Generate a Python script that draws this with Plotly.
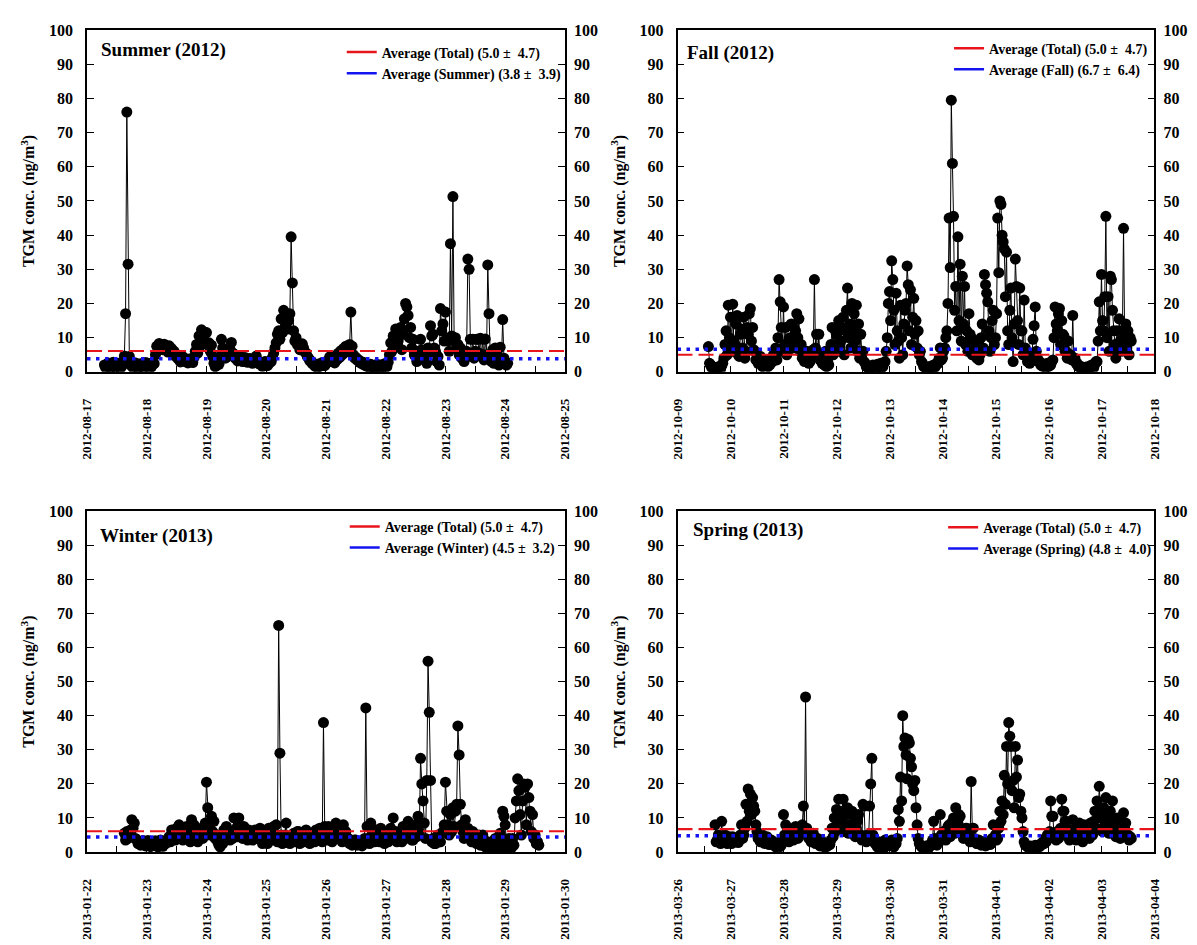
import pandas as pd
import plotly.graph_objects as go

FONT = "Liberation Serif"

# ---------------- data (half-hourly TGM, ng/m3) ----------------
summer_start = "2012-08-17 07:00"
summer_tgm = [
    2.0, 1.2, 1.8, 2.6, 2.2, 1.0, 1.6, 2.8, 2.4, 1.3, 1.9, 2.5, 2.1, 1.1, 1.7, 2.7, 4.6, 17.0, 76.0, 31.5, 4.5, 2.0,
    2.3, 1.2, 1.8, 2.6, 2.0, 1.0, 1.6, 2.4, 2.2, 1.3, 1.9, 2.7,
    1.7, 2.5, 2.1, 1.2, 1.6, 2.8, 2.4, 5.0, 7.5, 6.2, 8.3, 7.0, 7.9, 6.5, 8.1, 7.2, 7.4, 5.8, 7.6, 6.4, 6.8, 5.5, 6.0, 4.6,
    5.0, 3.9, 3.8, 2.9, 3.2, 4.4, 4.1, 3.0, 3.5, 2.6, 2.9, 3.8, 3.6, 2.7, 4.2, 6.0, 8.0, 5.5, 10.5, 7.5, 12.3, 9.0, 9.2, 11.5,
    11.5, 8.0, 8.5, 6.0, 7.8, 4.5, 2.5, 1.5, 1.8, 2.6, 2.2, 4.5, 9.5, 7.0, 5.5, 4.0, 4.2, 5.8, 5.0, 6.5, 8.6, 5.5, 5.2, 4.0,
    4.3, 3.2, 3.5, 4.6, 4.0, 3.0, 3.2, 4.2, 3.8, 2.8, 3.0, 3.9, 3.4, 2.5, 2.8, 3.6, 4.6, 3.2, 3.0, 2.2, 2.5, 1.6, 2.2, 3.0,
    2.8, 1.8, 2.4, 3.2, 3.0, 4.2, 5.5, 7.0, 8.5, 11.0, 12.0, 9.5, 15.5, 11.5, 18.0, 13.0, 16.5, 12.5, 15.0, 17.0, 39.5, 26.0, 12.0, 9.0,
    10.0, 8.0, 8.0, 6.5, 7.5, 8.2, 7.0, 5.8, 5.5, 4.5, 4.0, 3.2, 3.2, 2.4, 2.5, 1.7, 2.0, 1.3, 2.3, 1.6, 1.9, 2.7, 2.6, 1.8,
    2.4, 3.2, 3.0, 4.4, 4.2, 3.0, 3.4, 2.6, 4.8, 3.6, 5.5, 4.2, 6.2, 5.0, 6.8, 5.6, 7.5, 6.0, 7.0, 8.0, 17.5, 7.5, 5.0, 4.0,
    4.2, 3.4, 3.6, 2.8, 3.0, 2.3, 2.8, 2.0, 2.4, 1.6, 2.0, 1.3, 2.2, 1.5, 1.7, 1.0, 1.5, 2.2, 1.8, 1.1, 2.0, 1.4, 1.6, 2.4,
    2.2, 1.5, 2.8, 5.0, 8.5, 6.0, 10.5, 7.5, 12.5, 8.0, 9.0, 11.5, 13.0, 6.5, 11.0, 15.5, 20.0, 19.0, 16.5, 10.0, 13.0, 7.0, 9.5, 5.0,
    4.5, 3.0, 6.0, 4.0, 9.5, 6.5, 5.5, 3.5, 4.0, 2.5, 7.0, 5.5, 13.5, 10.5, 11.0, 7.0, 6.0, 3.0, 4.5, 2.0, 18.5, 12.0, 14.0, 9.0,
    17.5, 9.5, 9.0, 6.0, 37.5, 10.5, 51.3, 9.0, 10.0, 7.0, 8.0, 5.0, 7.0, 4.0, 5.0, 3.0, 4.0, 6.0, 33.0, 30.0, 9.5, 5.0, 9.5, 4.0,
    6.0, 9.5, 9.5, 5.5, 9.8, 4.5, 9.5, 3.5, 9.6, 5.0, 31.3, 17.0, 5.0, 3.0, 6.5, 2.5, 7.0, 4.0, 6.5, 2.0, 7.2, 3.5, 15.3, 4.0,
    3.0, 2.0, 2.5,
]

fall_start = "2012-10-09 14:00"
fall_tgm = [
    7.4, 2.5, 2.0, 1.2, 1.5, 0.8, 1.2, 0.9, 1.0, 1.5, 1.4, 0.8, 1.8, 2.5, 4.0, 8.0, 12.0, 5.0, 19.5, 10.0,
    16.0, 6.0, 19.8, 9.0, 8.0, 14.0, 16.5, 5.0, 4.5, 11.0, 12.5, 7.0, 16.0, 4.0, 6.0, 13.0, 11.0, 17.0, 18.5, 9.0, 13.0, 6.5, 6.0, 3.5,
    4.0, 2.5, 3.0, 4.5, 2.5, 1.5, 3.5, 2.0, 2.0, 3.0, 1.5, 2.4, 2.2, 4.0, 3.0, 5.0, 4.5, 7.0, 3.5, 10.0, 27.0, 20.5, 13.0, 6.0,
    19.0, 8.0, 13.0, 5.0, 6.0, 9.5, 10.0, 14.0, 13.5, 7.0, 9.0, 12.0, 17.0, 10.0, 15.5, 6.0, 8.0, 4.0, 5.0, 3.0, 3.5, 6.0, 4.5, 2.5,
    3.0, 4.0, 5.0, 6.5, 27.0, 7.0, 11.0, 4.5, 11.0, 3.5, 5.0, 2.5, 3.5, 2.0, 6.0, 1.5, 3.0, 2.0, 5.5, 8.0, 13.0, 5.0, 8.0, 12.0,
    11.0, 6.0, 15.0, 8.0, 9.0, 13.0, 16.0, 5.0, 12.0, 18.0, 24.5, 10.0, 14.0, 7.0, 20.0, 12.0, 17.0, 9.0, 19.5, 6.0, 14.0, 4.0, 11.0, 5.0,
    6.0, 3.0, 2.5, 1.5, 1.5, 1.0, 1.0, 0.8, 1.3, 2.0, 1.8, 1.0, 1.2, 2.2, 2.0, 1.5, 2.5, 1.2, 1.5, 2.5, 3.0, 6.0, 10.0, 20.0,
    23.5, 15.0, 32.5, 27.0, 18.0, 8.0, 23.0, 12.0, 9.0, 4.0, 19.5, 10.0, 5.0, 14.0, 18.0, 20.0, 31.0, 25.5, 12.0, 24.0, 8.0, 16.0, 21.5, 11.0,
    15.0, 7.0, 12.0, 5.0, 6.0, 3.0, 2.5, 1.5, 1.5, 1.0, 1.2, 0.8, 1.0, 1.6, 1.5, 1.0, 2.0, 1.3, 1.8, 2.6, 2.5, 4.0, 7.0, 3.5,
    4.0, 6.0, 7.0, 10.0, 12.0, 20.0, 45.0, 30.5, 79.5, 61.0, 45.5, 18.0, 25.0, 12.0, 39.5, 15.0, 31.5, 9.0, 28.0, 14.0, 25.0, 8.0, 12.0, 6.0,
    17.0, 11.0, 10.0, 5.0, 6.0, 9.0, 8.0, 4.0, 4.0, 3.5, 5.0, 10.0, 14.0, 7.0, 28.5, 25.5, 23.0, 20.5, 12.0, 6.0, 10.0, 15.0, 18.0, 8.0,
    10.0, 17.0, 45.0, 29.0, 50.0, 49.0, 40.0, 38.0, 36.0, 22.0, 35.0, 12.0, 8.0, 18.0, 24.5, 10.0, 3.0, 14.0, 33.0, 25.0, 15.0, 8.0, 24.5, 12.0,
    12.0, 5.0, 21.0, 7.0, 5.0, 3.0, 4.0, 2.5, 3.0, 5.0, 9.5, 13.5, 19.0, 6.0, 4.0, 3.0, 3.0, 2.0, 2.5, 1.6, 2.0, 1.4, 1.8, 2.5,
    1.5, 2.2, 2.0, 3.0, 3.5, 10.0, 19.0, 14.0, 12.0, 17.0, 18.5, 8.0, 15.0, 11.0, 10.5, 6.0, 6.0, 4.0, 9.0, 5.0, 5.0, 3.5, 16.5, 4.0,
    4.0, 2.5, 2.5, 1.5, 1.8, 1.2, 1.5, 1.0, 1.2, 0.8, 1.0, 1.5, 1.3, 0.9, 1.5, 2.0, 1.8, 1.2, 2.2, 3.0, 3.0, 9.0, 20.5, 12.0,
    28.5, 15.0, 12.0, 22.0, 45.5, 10.0, 22.0, 6.0, 28.0, 27.0, 18.0, 12.0, 8.0, 4.0, 12.0, 6.0, 15.5, 9.0, 6.0, 12.0, 42.0, 10.0, 14.0, 7.0,
    12.0, 5.0, 10.0, 9.0,
]

winter_start = "2013-01-22 15:00"
winter_tgm = [
    5.5, 3.5, 6.0, 4.0, 4.5, 6.5, 9.5, 7.0, 8.5, 4.0, 3.5, 2.5, 3.0, 2.0, 2.5, 3.4, 2.8, 1.8,
    2.5, 3.4, 2.2, 1.6, 3.0, 2.2, 2.4, 3.3, 2.0, 1.5, 2.6, 3.5, 2.3, 1.7, 3.2, 2.4, 2.8, 3.8, 4.5, 3.0, 6.5, 4.0, 5.5, 3.5,
    7.0, 4.5, 8.0, 5.0, 6.0, 3.5, 5.0, 7.0, 7.5, 4.0, 6.0, 3.0, 9.5, 5.5, 8.0, 4.0, 5.5, 3.0, 4.5, 6.5, 7.0, 4.0, 6.0, 8.5,
    20.5, 13.0, 8.0, 5.0, 10.5, 6.0, 9.0, 4.0, 5.0, 3.0, 2.0, 1.5, 4.0, 2.5, 6.5, 4.0, 7.5, 5.0, 5.0, 3.5, 6.0, 4.0, 10.0, 6.0,
    7.0, 4.5, 10.0, 7.0, 6.0, 4.0, 7.5, 5.0, 5.0, 3.5, 6.5, 4.5, 5.5, 3.5, 4.5, 6.5, 6.0, 4.0, 5.0, 7.0, 4.0, 2.5, 5.5, 3.5,
    4.5, 2.5, 7.0, 3.5, 3.5, 5.5, 7.5, 4.0, 8.0, 3.0, 66.5, 29.0, 5.0, 2.5, 3.0, 5.0, 8.5, 4.0, 4.0, 2.5, 3.0, 5.0, 5.5, 3.0,
    3.5, 6.0, 6.0, 2.5, 4.5, 3.0, 3.0, 5.5, 6.5, 3.5, 4.0, 2.5, 3.5, 5.0, 5.0, 3.0, 6.5, 4.0, 4.0, 7.0, 5.5, 3.0, 38.0, 7.5,
    6.0, 3.5, 7.5, 4.5, 5.0, 3.0, 6.5, 4.0, 8.5, 5.0, 7.0, 4.0, 5.5, 3.0, 8.0, 5.0, 6.0, 3.5, 4.0, 2.5, 3.0, 2.0, 2.5, 3.5,
    3.5, 2.0, 2.2, 3.0, 3.0, 1.8, 2.5, 4.0, 42.3, 7.5, 4.0, 2.5, 8.5, 5.0, 6.0, 3.0, 3.5, 6.5, 5.5, 3.0, 7.0, 4.0, 4.0, 2.5,
    5.0, 3.0, 3.0, 6.0, 7.0, 4.0, 10.0, 5.5, 6.0, 3.0, 3.5, 5.0, 5.5, 3.0, 7.5, 4.5, 4.0, 6.0, 9.0, 5.0, 6.5, 3.5, 3.5, 6.0,
    8.0, 4.5, 10.5, 6.0, 27.5, 20.0, 15.0, 8.5, 4.0, 21.0, 56.0, 41.0, 21.0, 3.0, 4.0, 2.5, 2.5, 4.5, 5.0, 3.0, 3.0, 5.5, 6.0, 8.0,
    20.5, 12.0, 8.0, 5.0, 11.0, 6.0, 13.0, 7.5, 12.0, 14.0, 37.0, 28.5, 14.0, 8.0, 6.0, 4.0, 9.5, 5.0, 7.0, 4.5, 5.0, 3.0, 6.0, 3.5,
    4.5, 2.5, 3.0, 5.0, 2.0, 3.5, 5.0, 2.0, 1.5, 3.0, 3.0, 1.0, 1.0, 2.5, 2.5, 0.8, 4.0, 1.5, 1.5, 3.5, 5.5, 1.2, 12.0, 10.5,
    8.0, 3.0, 1.5, 4.0, 2.0, 1.2, 4.0, 2.0, 10.0, 15.0, 21.5, 18.0, 11.0, 5.0, 15.0, 20.0, 19.0, 8.0, 20.0, 16.0, 12.0, 6.0, 11.0, 4.0,
    5.0, 2.5, 3.0, 2.0,
]

spring_start = "2013-03-26 17:00"
spring_tgm = [
    8.0, 3.0, 3.5, 5.0, 4.5, 2.5, 9.0, 4.0, 3.0, 5.0, 4.0, 2.5, 3.2, 4.5,
    3.5, 2.5, 4.5, 3.0, 3.0, 4.0, 4.0, 2.8, 3.5, 5.0, 8.0, 4.0, 5.0, 7.0, 14.0, 9.0, 18.5, 12.0, 17.0, 11.0, 16.0, 13.5, 12.0, 8.0,
    6.0, 4.0, 4.5, 3.0, 3.5, 5.0, 4.0, 2.5, 3.0, 4.5, 3.5, 2.2, 2.5, 3.5, 3.0, 2.0, 2.2, 1.5, 2.0, 2.8, 2.4, 1.6, 2.0, 3.0,
    11.0, 5.0, 8.0, 3.5, 5.0, 3.0, 4.0, 6.0, 6.0, 3.5, 5.0, 7.5, 7.0, 4.0, 4.5, 6.0, 6.5, 8.0, 13.5, 7.0, 45.5, 7.0, 5.5, 4.0,
    5.0, 3.0, 3.5, 5.5, 4.5, 2.5, 3.0, 4.0, 2.5, 1.8, 3.5, 2.0, 2.0, 1.5, 2.5, 1.6, 1.8, 2.6, 2.2, 3.5, 7.0, 4.5, 10.0, 6.0,
    12.5, 7.0, 15.5, 9.0, 9.0, 12.0, 15.5, 6.0, 11.0, 8.0, 13.0, 5.5, 8.0, 11.0, 12.0, 6.5, 10.5, 4.5, 7.0, 9.0, 11.0, 5.0, 5.0, 3.5,
    14.0, 13.5, 4.0, 3.0, 5.0, 4.0, 13.5, 20.0, 27.5, 5.0, 4.0, 2.5, 2.5, 1.5, 3.0, 1.8, 1.5, 2.5, 2.0, 1.2, 3.5, 2.0, 1.8, 2.8,
    2.0, 3.0, 3.5, 2.0, 1.5, 2.5, 2.5, 4.0, 12.5, 9.0, 22.0, 15.0, 40.0, 31.0, 33.5, 28.5, 21.5, 33.0, 32.0, 27.5, 25.0, 20.0, 18.0, 21.0,
    13.0, 8.0, 4.0, 2.5, 2.0, 1.5, 1.5, 1.0, 1.2, 1.8, 1.8, 1.0, 1.5, 2.2, 2.0, 3.5, 9.0, 4.0, 3.0, 2.0, 4.0, 3.0, 11.0, 5.0,
    4.0, 6.0, 6.0, 3.5, 5.0, 7.5, 8.0, 4.5, 6.5, 9.0, 10.0, 5.5, 13.0, 8.0, 8.5, 11.0, 10.5, 6.0, 6.0, 4.0, 5.0, 7.0, 7.0, 4.5,
    4.0, 3.0, 20.7, 7.0, 7.0, 4.0, 3.5, 2.5, 2.5, 3.5, 3.0, 2.0, 2.2, 3.0, 2.8, 1.8, 2.0, 2.8, 3.0, 2.2, 2.5, 4.0, 8.0, 4.0,
    5.0, 3.5, 4.0, 7.0, 12.0, 9.0, 15.0, 11.0, 22.5, 14.0, 31.0, 20.0, 38.0, 34.0, 31.0, 18.0, 21.0, 13.0, 31.0, 22.0, 27.0, 16.0, 17.0, 12.0,
    10.0, 6.0, 3.0, 2.0, 2.0, 1.5, 1.5, 1.0, 1.8, 1.2, 1.5, 1.0, 2.0, 1.3, 1.4, 2.0, 1.6, 2.4, 2.2, 3.0, 2.5, 4.0, 3.0, 5.0,
    4.0, 6.0, 15.0, 10.5, 10.5, 5.0, 5.0, 3.5, 6.0, 4.0, 4.5, 7.0, 15.5, 12.0, 12.0, 9.0, 9.0, 5.0, 5.0, 3.5, 6.5, 4.0, 9.5, 5.5,
    5.5, 3.5, 7.0, 4.5, 8.5, 5.0, 5.0, 3.0, 8.0, 5.5, 4.5, 7.0, 7.5, 4.0, 8.5, 5.0, 5.0, 9.0, 12.0, 7.0, 15.0, 10.0, 19.3, 13.0,
    10.0, 6.0, 13.0, 8.0, 16.0, 11.0, 9.0, 5.5, 12.0, 7.0, 15.0, 9.5, 7.0, 4.5, 10.0, 6.0, 6.0, 4.0, 9.0, 5.5, 11.5, 7.0, 8.5, 5.0,
    5.0, 3.5, 4.5, 4.0,
]

season_titles = ["Summer (2012)", "Fall (2012)", "Winter (2013)", "Spring (2013)"]
season_names = ["Summer", "Fall", "Winter", "Spring"]
season_starts = [summer_start, fall_start, winter_start, spring_start]
season_values = [summer_tgm, fall_tgm, winter_tgm, spring_tgm]
x_ranges = [["2012-08-17", "2012-08-25"], ["2012-10-09", "2012-10-18"],
            ["2013-01-22", "2013-01-30"], ["2013-03-26", "2013-04-04"]]
avg_total_line = [6.1, 5.0, 6.1, 6.7]      # red dashed level as drawn
avg_season_line = [3.8, 6.6, 4.4, 4.8]     # blue dotted level as drawn
total_stat = "5.0 ±\u00a0 4.7"
season_stats = ["3.8 ±\u00a0 3.9", "6.7 ±\u00a0 6.4", "4.5 ±\u00a0 3.2", "4.8 ±\u00a0 4.0"]

# ---------------- layout geometry ----------------
W, H = 1197, 945
x_doms = [[80 / W, 564 / W], [678 / W, 1161 / W]]
y_doms = [[1 - 370.5 / H, 1 - 22.5 / H], [1 - 859.5 / H, 1 - 512.5 / H]]
title_pos = [(92, 43), (686, 46), (91, 538), (692, 532)]
legend_pos = [(380, 40), (995, 36), (383, 523), (989, 524)]

RED = "#e8141c"
BLUE = "#1414f0"

fig = go.Figure()
layout = {}
tick_font = dict(family=FONT, size=16, color="black", weight="bold")

for i in range(4):
    k = i + 1
    sx = "" if k == 1 else str(k)
    sy = "" if k == 1 else str(k)
    syr = str(k + 4)
    times = pd.date_range(season_starts[i], periods=len(season_values[i]), freq="30min")
    leg = "legend" if k == 1 else f"legend{k}"

    fig.add_trace(go.Scatter(
        x=times, y=season_values[i], mode="lines+markers",
        line=dict(color="black", width=1),
        marker=dict(color="black", size=11, line=dict(width=0)),
        xaxis="x" + sx, yaxis="y" + sy, showlegend=False, hoverinfo="skip"))

    # average lines (drawn on the right-hand axis, same 0-100 scale)
    fig.add_trace(go.Scatter(
        x=x_ranges[i], y=[avg_total_line[i]] * 2, mode="lines",
        line=dict(color=RED, width=2.2, dash="15px,6px"),
        xaxis="x" + sx, yaxis="y" + syr, showlegend=False, hoverinfo="skip"))
    fig.add_trace(go.Scatter(
        x=x_ranges[i], y=[avg_season_line[i]] * 2, mode="lines",
        line=dict(color=BLUE, width=3.5, dash="3.5px,5.5px"),
        xaxis="x" + sx, yaxis="y" + syr, showlegend=False, hoverinfo="skip"))

    # legend entries (solid samples, as in the original)
    fig.add_trace(go.Scatter(
        x=[None], y=[None], mode="lines", line=dict(color=RED, width=2.5),
        name=f"Average (Total) ({total_stat})",
        xaxis="x" + sx, yaxis="y" + syr, legend=leg))
    fig.add_trace(go.Scatter(
        x=[None], y=[None], mode="lines", line=dict(color=BLUE, width=2.5),
        name=f"Average ({season_names[i]}) ({season_stats[i]})",
        xaxis="x" + sx, yaxis="y" + syr, legend=leg))

    lx, ly = legend_pos[i]
    layout[leg] = dict(x=(lx - 42) / W, y=1 - (ly - 11) / H, xanchor="left", yanchor="top",
                       bgcolor="rgba(0,0,0,0)", borderwidth=0, itemwidth=30,
                       font=dict(family=FONT, size=14, color="black", weight="bold"),
                       tracegroupgap=0)

    layout["xaxis" + sx] = dict(
        domain=x_doms[i % 2], range=x_ranges[i], type="date", anchor="y" + sy,
        showline=True, linecolor="black", linewidth=1.5, mirror=True,
        ticks="inside", ticklen=6, tickwidth=1.2, tickcolor="black",
        tick0=x_ranges[i][0], dtick=86400000, tickformat="%Y-%m-%d", tickangle=-90,
        tickfont=dict(family=FONT, size=13, color="black", weight="bold"),
        ticklabelstandoff=20,
        minor=dict(dtick=43200000, ticks="inside", ticklen=6, tickwidth=1.2, tickcolor="black", showgrid=False),
        showgrid=False, zeroline=False, fixedrange=True)
    layout["yaxis" + sy] = dict(
        domain=y_doms[i // 2], range=[0, 100], anchor="x" + sx, dtick=10,
        showline=True, linecolor="black", linewidth=1.5,
        ticks="inside", ticklen=7, tickwidth=1.2, tickcolor="black",
        tickfont=tick_font, ticklabelstandoff=9,
        showgrid=False, zeroline=False, fixedrange=True,
        title=dict(text="TGM conc. (ng/m<sup>3</sup>)",
                   font=dict(family=FONT, size=16, color="black", weight="bold"), standoff=10))
    layout["yaxis" + syr] = dict(
        overlaying="y" + sy, side="right", anchor="x" + sx, range=[0, 100], dtick=10,
        showline=True, linecolor="black", linewidth=1.5,
        ticks="inside", ticklen=7, tickwidth=1.2, tickcolor="black",
        tickfont=tick_font, ticklabelstandoff=4,
        showgrid=False, zeroline=False, fixedrange=True)

annotations = []
for i in range(4):
    tx, ty = title_pos[i]
    annotations.append(dict(
        text=season_titles[i], xref="paper", yref="paper",
        x=tx / W, y=1 - ty / H, xanchor="left", yanchor="middle", showarrow=False,
        font=dict(family=FONT, size=19, color="black", weight="bold")))

fig.update_layout(
    width=W, height=H, margin=dict(l=0, r=0, t=0, b=0),
    paper_bgcolor="white", plot_bgcolor="white",
    annotations=annotations, showlegend=True, **layout)

fig.write_html("out.html", config={"displayModeBar": False},
               post_script="document.body.style.margin='0';")
